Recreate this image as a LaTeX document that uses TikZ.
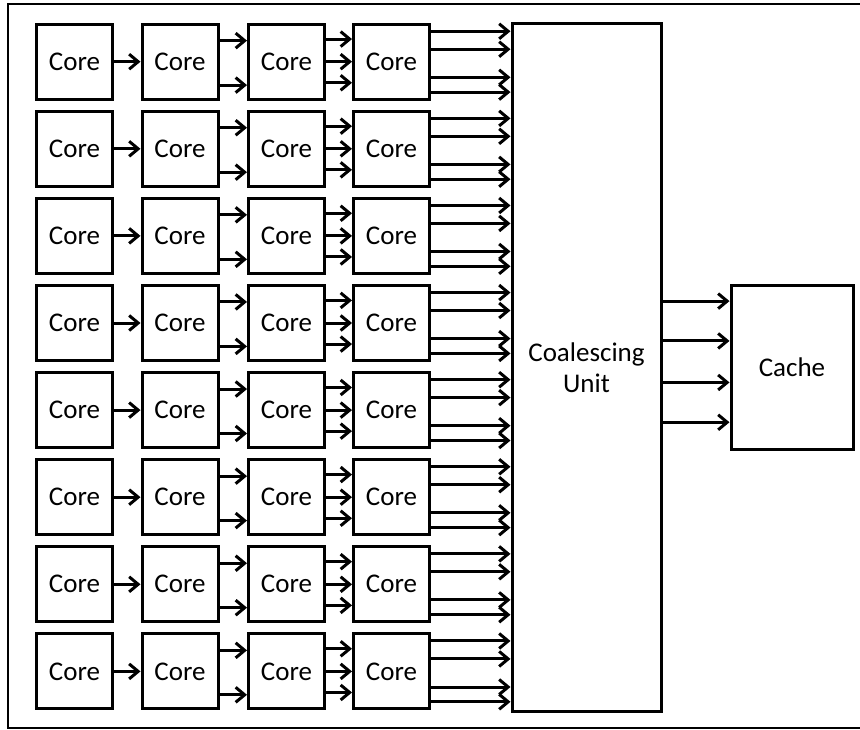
\documentclass[tikz,border=0pt]{standalone}
\usepackage{fontspec}
\setmainfont{Carlito}
\usetikzlibrary{positioning,arrows.meta,calc}

\begin{document}
\begin{tikzpicture}[
  x=1pt, y=-1pt,
  every node/.style={font=\fontsize{27}{31}\selectfont},
  core/.style={draw,line width=3pt,minimum width=76pt,minimum height=75pt,inner sep=0pt},
  link/.style={line width=3pt,-{Straight Barb[length=9pt,width=15pt]}}
]
  \useasboundingbox (0,0) rectangle (860,730);
  \draw[line width=2.2pt] (8,4) rectangle (870,728);

  % grid of cores
  \foreach \r in {1,...,8}
    \foreach \c/\x in {1/74.5,2/180,3/286.5,4/391.5}
      \node[core] (core-\r-\c) at (\x,{61.7+87.1*(\r-1)}) {Core};

  \node[core,minimum width=149pt,minimum height=687pt,align=center] (cu) at (586.5,367.5) {Coalescing\\Unit};
  \node[core,minimum width=122pt,minimum height=163pt] (cache) at (792,367.5) {Cache};

  % links inside each row
  \foreach \r in {1,...,8}{
    \draw[link] (core-\r-1) -- (core-\r-2);
    \foreach \f in {0.23,0.8}
      \draw[link] ($(core-\r-2.north east)!\f!(core-\r-2.south east)$) -- ($(core-\r-3.north west)!\f!(core-\r-3.south west)$);
    \foreach \f in {0.21,0.5,0.77}
      \draw[link] ($(core-\r-3.north east)!\f!(core-\r-3.south east)$) -- ($(core-\r-4.north west)!\f!(core-\r-4.south west)$);
    \foreach \f in {0.11,0.34,0.70,0.89}{
      \coordinate (p) at ($(core-\r-4.north east)!\f!(core-\r-4.south east)$);
      \draw[link] (p) -- (p -| cu.west);
    }
  }

  % coalescing unit to cache
  \foreach \f in {0.10,0.34,0.59,0.83}{
    \coordinate (q) at ($(cache.north west)!\f!(cache.south west)$);
    \draw[link] (q -| cu.east) -- (q);
  }
\end{tikzpicture}
\end{document}
